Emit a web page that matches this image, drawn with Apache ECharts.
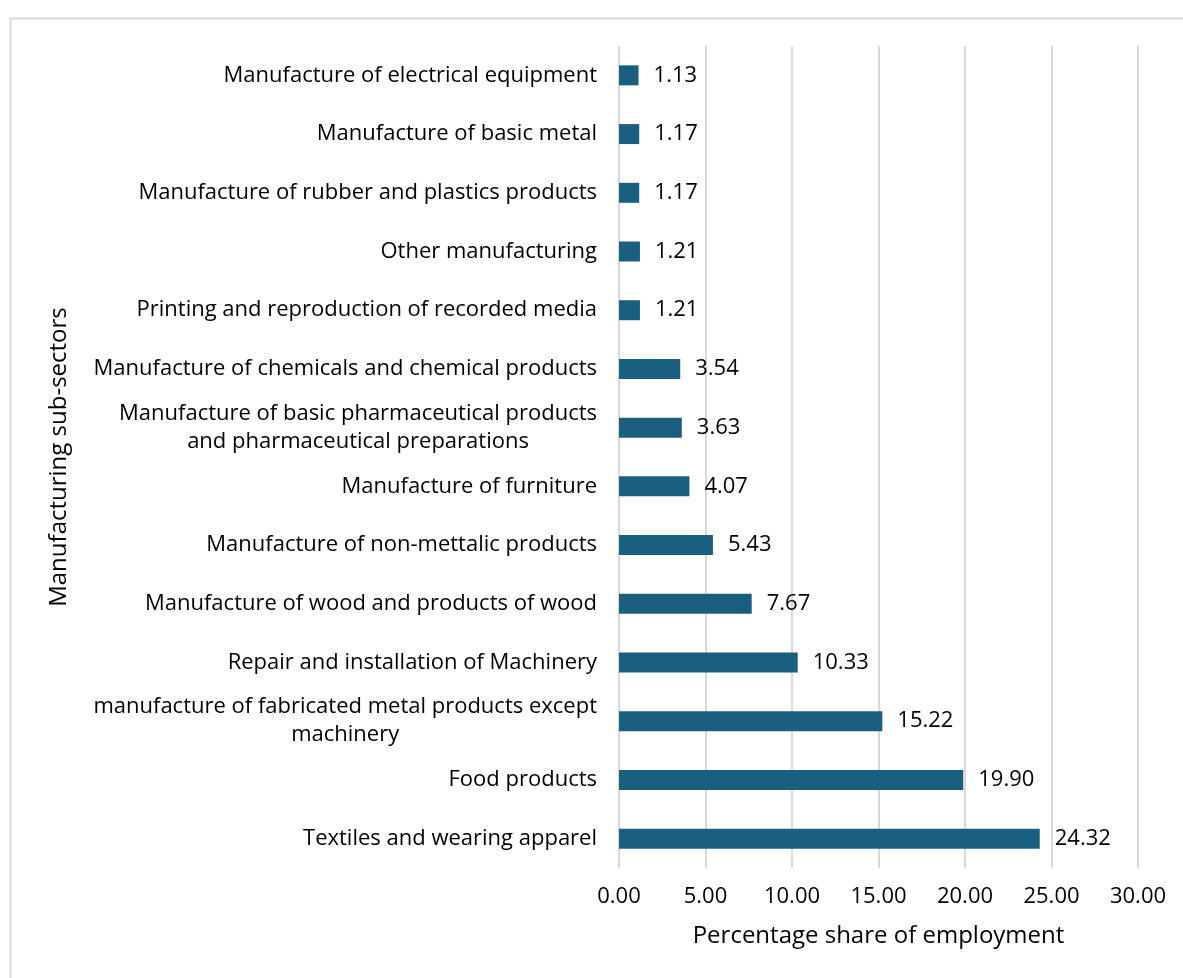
<!DOCTYPE html>
<html>
<head>
<meta charset="utf-8">
<style>
  html, body { margin: 0; padding: 0; background: #fff; }
  #chart { width: 1183px; height: 978px; }
</style>
<script src="https://cdn.jsdelivr.net/npm/echarts@6/dist/echarts.min.js"></script>
</head>
<body>
<div id="chart"></div>
<script>
// Manufacturing sub-sectors, listed top to bottom
const categories = [
  'Manufacture of electrical equipment',
  'Manufacture of basic metal',
  'Manufacture of rubber and plastics products',
  'Other manufacturing',
  'Printing and reproduction of recorded media',
  'Manufacture of chemicals and chemical products',
  'Manufacture of basic pharmaceutical products\nand pharmaceutical preparations',
  'Manufacture of furniture',
  'Manufacture of non-mettalic products',
  'Manufacture of wood and products of wood',
  'Repair and installation of Machinery',
  'manufacture of fabricated metal products except\nmachinery',
  'Food products',
  'Textiles and wearing apparel'
];

// Percentage share of employment for each sub-sector
const shares = [1.13, 1.17, 1.17, 1.21, 1.21, 3.54, 3.63, 4.07, 5.43, 7.67, 10.33, 15.22, 19.90, 24.32];

// Value axis ticks
const axisMin = 0;
const axisMax = 30;
const axisStep = 5;

const FONT = '"Open Sans", "Noto Sans", sans-serif';
const chart = echarts.init(document.getElementById('chart'), null, { renderer: 'canvas' });

chart.setOption({
  animation: false,
  backgroundColor: '#ffffff',
  textStyle: { fontFamily: FONT, color: '#000' },
  graphic: [{
    type: 'rect',
    left: 8, top: 16,
    shape: { width: 1200, height: 1000 },
    style: { fill: 'none', stroke: '#d9d9d9', lineWidth: 2 },
    silent: true
  }],
  grid: { left: 619, right: 45, top: 46, bottom: 110, containLabel: false },
  xAxis: {
    type: 'value',
    min: axisMin, max: axisMax, interval: axisStep,
    axisLine: { show: false },
    axisTick: { show: false },
    splitLine: { show: true, lineStyle: { color: '#d9d9d9', width: 2 } },
    axisLabel: {
      margin: 18, fontSize: 22, color: '#000', fontFamily: FONT,
      formatter: v => v.toFixed(2)
    },
    name: 'Percentage share of employment',
    nameLocation: 'middle',
    nameGap: 56,
    nameTextStyle: { fontSize: 24, color: '#000', fontFamily: FONT }
  },
  yAxis: {
    type: 'category',
    data: categories,
    inverse: true,
    axisLine: { show: false },
    axisTick: { show: false },
    splitLine: { show: false },
    axisLabel: {
      margin: 22, fontSize: 22, color: '#000', fontFamily: FONT,
      align: 'right', lineHeight: 28,
      // wrapped names: each line centred within the label block
      formatter: name => name.split('\n').map(line => '{c|' + line + '}').join('\n'),
      rich: {
        c: { align: 'center', fontSize: 22, lineHeight: 28, color: '#000', fontFamily: FONT }
      }
    },
    name: 'Manufacturing sub-sectors',
    nameLocation: 'middle',
    nameGap: 548,
    nameTextStyle: { fontSize: 24, color: '#000', fontFamily: FONT }
  },
  series: [{
    type: 'bar',
    data: shares,
    barWidth: 20,
    itemStyle: { color: '#1a5f80' },
    label: {
      show: true, position: 'right', distance: 15,
      fontSize: 22, color: '#000', fontFamily: FONT,
      formatter: p => p.value.toFixed(2)
    }
  }]
});
</script>
</body>
</html>
